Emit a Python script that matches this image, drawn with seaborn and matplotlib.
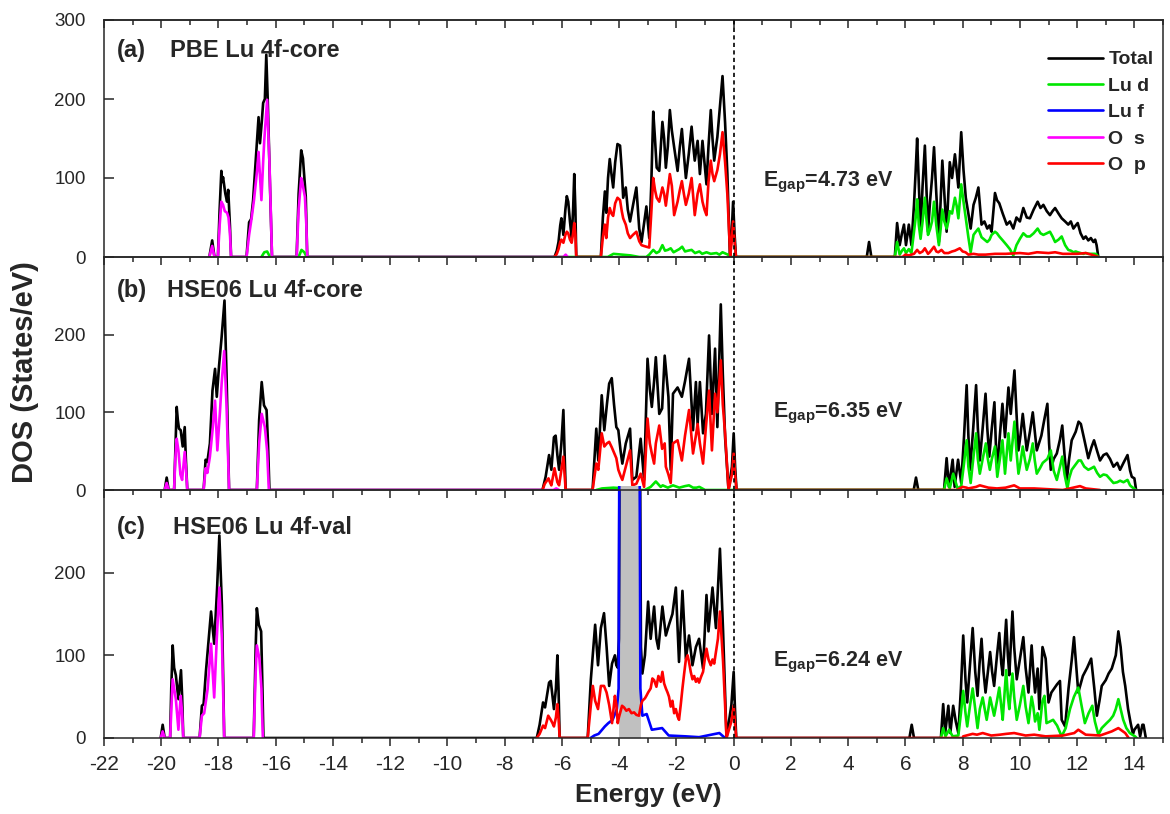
import numpy as np
import pandas as pd
import matplotlib
matplotlib.use("Agg")
import matplotlib.pyplot as plt
from matplotlib.lines import Line2D
from matplotlib.ticker import MultipleLocator
from matplotlib.transforms import Bbox, TransformedBbox
import seaborn as sns

# ---------------------------------------------------------------------------
# Density of states of Lu2O3, (energy in eV, DOS in states/eV) pairs
# ---------------------------------------------------------------------------

# (a) PBE, Lu 4f in core
A_TOTAL = [(-18.32, 0), (-18.22, 21), (-18.14, 0),
           (-18.02, 0), (-17.96, 60), (-17.9, 109), (-17.87, 95), (-17.84, 101), (-17.76, 80), (-17.7, 70),
           (-17.66, 85), (-17.6, 40), (-17.56, 0),
           (-17.02, 0), (-16.93, 44), (-16.86, 48), (-16.79, 72), (-16.72, 110), (-16.65, 148), (-16.6, 177),
           (-16.55, 144), (-16.49, 170), (-16.44, 195), (-16.38, 200), (-16.33, 256), (-16.28, 200),
           (-16.2, 90), (-16.13, 0),
           (-15.27, 0), (-15.2, 80), (-15.11, 135), (-15.05, 125), (-15.0, 101), (-14.95, 76), (-14.9, 0),
           (-6.26, 0), (-6.18, 8), (-6.12, 19), (-6.06, 40), (-6.02, 49), (-5.95, 28), (-5.88, 60), (-5.83, 77),
           (-5.78, 70), (-5.72, 45), (-5.66, 24), (-5.61, 60), (-5.57, 105), (-5.53, 60), (-5.5, 0),
           (-4.64, 0), (-4.57, 50), (-4.5, 83), (-4.45, 56), (-4.39, 100), (-4.33, 124), (-4.27, 105),
           (-4.21, 88), (-4.14, 120), (-4.06, 143), (-3.97, 141), (-3.91, 110), (-3.86, 75), (-3.77, 88),
           (-3.7, 60), (-3.62, 45), (-3.52, 65), (-3.4, 88), (-3.3, 36), (-3.22, 19), (-3.14, 40), (-3.05, 64),
           (-2.95, 24), (-2.88, 90), (-2.81, 184), (-2.75, 150), (-2.69, 113), (-2.6, 109), (-2.49, 171),
           (-2.43, 150), (-2.37, 113), (-2.3, 140), (-2.23, 186), (-2.16, 160), (-2.08, 139), (-1.96, 109),
           (-1.88, 140), (-1.81, 162), (-1.74, 130), (-1.67, 100), (-1.57, 130), (-1.47, 165), (-1.41, 140),
           (-1.36, 122), (-1.26, 147), (-1.18, 105), (-1.09, 147), (-1.02, 120), (-0.95, 92), (-0.88, 140),
           (-0.8, 186), (-0.74, 150), (-0.68, 122), (-0.57, 152), (-0.48, 190), (-0.39, 229), (-0.3, 170),
           (-0.22, 105), (-0.13, 0), (-0.07, 30), (-0.02, 70), (0.03, 30), (0.08, 0),
           (4.65, 0), (4.73, 19), (4.81, 0),
           (5.63, 0), (5.71, 43), (5.8, 15), (5.88, 30), (5.95, 41), (6.02, 15), (6.12, 41), (6.21, 15),
           (6.3, 66), (6.36, 110), (6.41, 150), (6.47, 90), (6.53, 32), (6.6, 90), (6.68, 141), (6.73, 90),
           (6.79, 32), (6.86, 70), (6.93, 100), (7.0, 139), (7.08, 80), (7.17, 19), (7.23, 70), (7.29, 122),
           (7.36, 80), (7.44, 32), (7.5, 80), (7.55, 120), (7.63, 100), (7.73, 130), (7.79, 110), (7.85, 88),
           (7.95, 158), (8.03, 110), (8.11, 75), (8.2, 55), (8.28, 36), (8.38, 66), (8.46, 75), (8.55, 88),
           (8.66, 41), (8.76, 45), (8.86, 36), (8.94, 40), (9.01, 32), (9.13, 81), (9.2, 72), (9.28, 68),
           (9.4, 55), (9.54, 41), (9.65, 45), (9.77, 36), (9.88, 50), (10.0, 45), (10.12, 62), (10.24, 50),
           (10.35, 49), (10.48, 60), (10.62, 70), (10.72, 62), (10.82, 66), (10.94, 58), (11.05, 53),
           (11.14, 58), (11.23, 62), (11.35, 55), (11.46, 49), (11.58, 45), (11.69, 41), (11.78, 45),
           (11.87, 36), (11.95, 40), (12.02, 43), (12.12, 30), (12.22, 23), (12.3, 26), (12.39, 21),
           (12.48, 24), (12.57, 19), (12.63, 22), (12.68, 15), (12.74, 0)]

A_LU_D = [(-16.5, 0), (-16.4, 6), (-16.3, 7), (-16.2, 0), (-15.2, 0), (-15.1, 9), (-15.0, 6), (-14.92, 0),
          (-4.4, 0), (-4.2, 4), (-3.9, 3), (-3.6, 2), (-3.3, 0), (-3.05, 0), (-2.95, 3), (-2.81, 9),
          (-2.7, 5), (-2.6, 7), (-2.49, 15), (-2.4, 8), (-2.3, 9), (-2.2, 11), (-2.1, 6), (-2.0, 8),
          (-1.9, 10), (-1.8, 13), (-1.7, 7), (-1.6, 8), (-1.47, 9), (-1.35, 5), (-1.2, 7), (-1.1, 4),
          (-0.95, 6), (-0.8, 4), (-0.6, 5), (-0.5, 3), (-0.39, 6), (-0.2, 3), (-0.13, 0),
          (5.63, 0), (5.71, 19), (5.8, 3), (5.88, 8), (5.95, 11), (6.02, 5), (6.12, 10), (6.21, 5),
          (6.3, 32), (6.36, 50), (6.41, 73), (6.47, 40), (6.53, 23), (6.6, 45), (6.68, 75), (6.73, 50),
          (6.79, 28), (6.86, 35), (6.93, 45), (7.0, 70), (7.08, 40), (7.17, 15), (7.23, 35), (7.29, 60),
          (7.36, 45), (7.44, 36), (7.5, 45), (7.55, 58), (7.63, 55), (7.73, 75), (7.79, 65), (7.85, 49),
          (7.95, 92), (8.03, 70), (8.11, 49), (8.2, 25), (8.28, 6), (8.38, 28), (8.46, 32), (8.55, 36),
          (8.66, 25), (8.76, 22), (8.86, 19), (8.94, 22), (9.01, 28), (9.13, 32), (9.2, 30), (9.28, 26),
          (9.4, 21), (9.54, 15), (9.65, 10), (9.77, 2), (9.88, 15), (10.0, 23), (10.12, 30), (10.24, 26),
          (10.35, 26), (10.48, 30), (10.62, 36), (10.72, 30), (10.82, 28), (10.94, 30), (11.05, 32),
          (11.14, 26), (11.23, 19), (11.35, 22), (11.46, 26), (11.58, 15), (11.69, 9), (11.78, 8),
          (11.87, 6), (11.95, 7), (12.02, 6), (12.12, 5), (12.22, 4), (12.3, 5), (12.39, 4), (12.48, 4),
          (12.57, 4), (12.63, 4), (12.68, 3), (12.74, 0)]

A_O_S = [(-18.32, 0), (-18.22, 14), (-18.14, 0), (-18.02, 0), (-17.96, 40), (-17.9, 70), (-17.84, 66),
         (-17.78, 58), (-17.7, 56), (-17.65, 50), (-17.6, 30), (-17.56, 0), (-17.02, 0), (-16.93, 28),
         (-16.84, 50), (-16.76, 72), (-16.65, 110), (-16.6, 133), (-16.5, 72), (-16.44, 120), (-16.4, 148),
         (-16.3, 199), (-16.22, 120), (-16.13, 0), (-15.27, 0), (-15.2, 60), (-15.11, 100), (-15.05, 90),
         (-14.98, 76), (-14.93, 40), (-14.9, 0), (-5.95, 0), (-5.87, 3), (-5.8, 0)]

A_O_P = [(-6.26, 0), (-6.18, 4), (-6.12, 10), (-6.06, 19), (-6.02, 22), (-5.95, 18), (-5.88, 28),
         (-5.83, 32), (-5.78, 30), (-5.72, 22), (-5.66, 18), (-5.61, 30), (-5.57, 43), (-5.53, 28),
         (-5.5, 0),
         (-4.64, 0), (-4.57, 25), (-4.5, 41), (-4.45, 24), (-4.39, 50), (-4.33, 62), (-4.27, 55),
         (-4.21, 52), (-4.14, 68), (-4.06, 75), (-3.97, 72), (-3.91, 58), (-3.86, 49), (-3.77, 41),
         (-3.7, 30), (-3.62, 24), (-3.52, 28), (-3.4, 32), (-3.3, 20), (-3.22, 15), (-3.14, 14),
         (-3.05, 13), (-2.95, 12), (-2.88, 55), (-2.81, 100), (-2.75, 85), (-2.69, 75), (-2.6, 70),
         (-2.49, 88), (-2.43, 80), (-2.37, 65), (-2.3, 85), (-2.23, 105), (-2.16, 90), (-2.08, 53),
         (-1.96, 70), (-1.88, 85), (-1.81, 96), (-1.74, 80), (-1.67, 66), (-1.57, 80), (-1.47, 100),
         (-1.41, 75), (-1.36, 53), (-1.26, 80), (-1.18, 92), (-1.09, 70), (-1.02, 60), (-0.95, 53),
         (-0.88, 95), (-0.8, 122), (-0.74, 105), (-0.68, 96), (-0.57, 110), (-0.48, 130), (-0.39, 158),
         (-0.3, 120), (-0.22, 79), (-0.12, 0), (-0.07, 20), (-0.02, 45), (0.03, 20), (0.08, 0),
         (5.9, 0), (6.0, 3), (6.12, 2), (6.3, 4), (6.41, 9), (6.5, 5), (6.6, 7), (6.68, 11), (6.79, 4),
         (6.85, 6), (7.0, 13), (7.08, 7), (7.15, 6), (7.26, 9), (7.36, 5), (7.5, 5), (7.63, 7), (7.73, 8),
         (7.9, 11), (8.0, 7), (8.1, 6), (8.2, 3), (8.38, 4), (8.55, 3), (8.8, 3), (9.13, 4), (9.5, 4),
         (10.0, 5), (10.3, 4), (10.6, 6), (11.0, 5), (11.23, 6), (11.5, 4), (12.0, 4), (12.3, 5),
         (12.5, 3), (12.74, 0)]

# (b) HSE06, Lu 4f in core
B_TOTAL = [(-19.88, 0), (-19.81, 16), (-19.74, 0),
           (-19.55, 0), (-19.5, 60), (-19.46, 107), (-19.42, 90), (-19.38, 79), (-19.32, 77), (-19.25, 56),
           (-19.18, 81), (-19.14, 40), (-19.09, 0),
           (-18.52, 0), (-18.45, 39), (-18.39, 36), (-18.3, 60), (-18.21, 128), (-18.12, 156), (-18.06, 120),
           (-17.98, 160), (-17.89, 197), (-17.79, 244), (-17.72, 150), (-17.63, 0),
           (-16.66, 0), (-16.58, 90), (-16.49, 139), (-16.41, 109), (-16.32, 103), (-16.27, 60), (-16.22, 0),
           (-6.68, 0), (-6.57, 17), (-6.45, 45), (-6.37, 26), (-6.28, 68), (-6.22, 70), (-6.16, 45),
           (-6.1, 26), (-6.02, 60), (-5.95, 103), (-5.87, 0),
           (-4.93, 0), (-4.8, 79), (-4.73, 38), (-4.61, 122), (-4.52, 77), (-4.43, 110), (-4.35, 137),
           (-4.26, 144), (-4.18, 110), (-4.1, 81), (-4.03, 77), (-3.95, 50), (-3.89, 34), (-3.77, 60),
           (-3.62, 79), (-3.54, 13), (-3.4, 17), (-3.25, 66), (-3.13, 13), (-3.01, 169), (-2.93, 130),
           (-2.86, 107), (-2.78, 140), (-2.72, 171), (-2.6, 98), (-2.5, 105), (-2.41, 173), (-2.28, 120),
           (-2.2, 26), (-2.12, 124), (-1.96, 132), (-1.81, 120), (-1.7, 140), (-1.56, 169), (-1.42, 77),
           (-1.32, 139), (-1.26, 85), (-1.18, 139), (-1.07, 73), (-0.97, 98), (-0.86, 199), (-0.76, 98),
           (-0.65, 182), (-0.57, 81), (-0.45, 239), (-0.38, 150), (-0.3, 68), (-0.18, 0), (-0.06, 30),
           (0.0, 73), (0.05, 30), (0.1, 0),
           (6.29, 0), (6.37, 16), (6.45, 0),
           (7.35, 0), (7.44, 41), (7.52, 4), (7.65, 39), (7.72, 4), (7.84, 39), (7.95, 9), (8.05, 70),
           (8.14, 135), (8.2, 70), (8.26, 26), (8.37, 80), (8.47, 135), (8.53, 80), (8.6, 38), (8.7, 80),
           (8.8, 124), (8.86, 80), (8.93, 43), (9.02, 80), (9.11, 113), (9.16, 60), (9.21, 26), (9.3, 70),
           (9.39, 111), (9.48, 68), (9.6, 132), (9.68, 98), (9.81, 154), (9.88, 100), (9.95, 51),
           (10.02, 70), (10.1, 98), (10.17, 75), (10.24, 51), (10.35, 75), (10.45, 100), (10.52, 75),
           (10.59, 51), (10.75, 70), (10.85, 90), (10.96, 111), (11.02, 60), (11.08, 26), (11.18, 40),
           (11.29, 47), (11.4, 65), (11.48, 83), (11.56, 45), (11.64, 13), (11.72, 40), (11.81, 64),
           (11.95, 75), (12.05, 88), (12.13, 85), (12.25, 65), (12.39, 41), (12.5, 55), (12.59, 64),
           (12.7, 50), (12.8, 38), (12.92, 45), (13.03, 47), (13.15, 40), (13.27, 30), (13.4, 35),
           (13.5, 26), (13.62, 35), (13.76, 45), (13.85, 25), (13.91, 17), (14.0, 15), (14.06, 0)]

B_LU_D = [(-4.8, 0), (-4.6, 2), (-4.2, 3), (-3.8, 2), (-3.5, 0),
          (-3.1, 0), (-2.9, 4), (-2.72, 11), (-2.55, 4), (-2.48, 6), (-2.3, 3), (-2.12, 6), (-1.9, 3),
          (-1.7, 5), (-1.56, 6), (-1.42, 3), (-1.3, 3), (-1.2, 4), (-1.0, 0),
          (7.35, 0), (7.44, 15), (7.55, 2), (7.67, 21), (7.82, 2), (7.95, 5), (8.05, 35), (8.14, 64),
          (8.2, 30), (8.28, 9), (8.37, 40), (8.47, 73), (8.53, 40), (8.6, 21), (8.7, 40), (8.81, 60),
          (8.88, 40), (8.95, 26), (9.02, 40), (9.13, 56), (9.21, 17), (9.3, 40), (9.39, 64), (9.48, 21),
          (9.6, 73), (9.68, 38), (9.81, 88), (9.88, 50), (9.95, 21), (10.02, 35), (10.1, 56), (10.17, 40),
          (10.24, 26), (10.35, 40), (10.45, 60), (10.52, 38), (10.59, 21), (10.7, 28), (10.8, 35),
          (10.96, 40), (11.08, 51), (11.18, 25), (11.29, 13), (11.4, 30), (11.48, 43), (11.56, 20),
          (11.66, 2), (11.72, 15), (11.81, 26), (11.95, 33), (12.05, 38), (12.13, 38), (12.25, 30),
          (12.39, 26), (12.5, 28), (12.59, 30), (12.7, 22), (12.8, 17), (12.92, 20), (13.03, 19),
          (13.15, 14), (13.27, 9), (13.4, 10), (13.5, 12), (13.62, 10), (13.76, 13), (13.85, 6),
          (13.91, 4), (14.06, 0)]

B_O_S = [(-19.88, 0), (-19.81, 9), (-19.74, 0), (-19.55, 0), (-19.51, 40), (-19.46, 66), (-19.4, 51),
         (-19.33, 20), (-19.27, 13), (-19.18, 49), (-19.13, 25), (-19.09, 0), (-18.52, 0), (-18.45, 28),
         (-18.39, 22), (-18.3, 43), (-18.2, 80), (-18.12, 115), (-18.04, 51), (-17.95, 100), (-17.89, 137),
         (-17.8, 179), (-17.72, 110), (-17.63, 0), (-16.66, 0), (-16.58, 60), (-16.49, 98), (-16.38, 81),
         (-16.3, 50), (-16.24, 0), (-6.3, 0), (-6.2, 2), (-6.1, 0)]

B_O_P = [(-6.68, 0), (-6.6, 8), (-6.47, 15), (-6.42, 10), (-6.37, 6), (-6.26, 28), (-6.16, 10), (-6.1, 6),
         (-5.95, 43), (-5.87, 0),
         (-4.93, 0), (-4.8, 34), (-4.73, 26), (-4.61, 73), (-4.52, 56), (-4.43, 60), (-4.35, 62),
         (-4.26, 55), (-4.18, 48), (-4.1, 41), (-4.03, 26), (-3.95, 18), (-3.89, 13), (-3.77, 30),
         (-3.62, 51), (-3.54, 6), (-3.4, 8), (-3.25, 21), (-3.13, 4), (-3.01, 92), (-2.93, 60),
         (-2.86, 47), (-2.78, 34), (-2.72, 60), (-2.6, 83), (-2.5, 53), (-2.41, 60), (-2.37, 30),
         (-2.28, 20), (-2.2, 9), (-2.12, 60), (-1.96, 64), (-1.81, 38), (-1.7, 70), (-1.56, 103),
         (-1.42, 47), (-1.32, 70), (-1.26, 85), (-1.18, 60), (-1.07, 34), (-0.97, 81), (-0.86, 128),
         (-0.76, 51), (-0.65, 124), (-0.57, 100), (-0.45, 167), (-0.38, 110), (-0.3, 73), (-0.18, 0),
         (-0.06, 20), (0.0, 47), (0.05, 20), (0.1, 0),
         (7.8, 0), (8.0, 4), (8.14, 3), (8.2, 2), (8.47, 4), (8.6, 6), (8.8, 4), (8.9, 3), (9.2, 2),
         (9.5, 3), (9.8, 6), (10.0, 2), (10.5, 2), (11.0, 1), (11.5, 0), (12.1, 5), (12.3, 2), (12.8, 0)]

# (c) HSE06, Lu 4f in valence
C_TOTAL = [(-20.02, 0), (-19.95, 16), (-19.88, 0),
           (-19.69, 0), (-19.65, 60), (-19.6, 112), (-19.55, 85), (-19.49, 76), (-19.4, 47), (-19.31, 82),
           (-19.27, 50), (-19.23, 0),
           (-18.66, 0), (-18.58, 39), (-18.52, 41), (-18.44, 80), (-18.35, 116), (-18.26, 153), (-18.15, 114),
           (-18.05, 180), (-17.97, 245), (-17.88, 160), (-17.8, 0),
           (-16.77, 0), (-16.7, 110), (-16.66, 157), (-16.59, 137), (-16.51, 129), (-16.47, 70), (-16.43, 0),
           (-6.88, 0), (-6.78, 16), (-6.66, 43), (-6.59, 37), (-6.45, 67), (-6.39, 69), (-6.28, 35),
           (-6.21, 60), (-6.16, 100), (-6.12, 60), (-6.08, 0),
           (-5.1, 0), (-4.99, 71), (-4.84, 137), (-4.74, 88), (-4.64, 133), (-4.53, 151), (-4.44, 110),
           (-4.35, 63), (-4.25, 90), (-4.15, 100), (-4.1, 88), (-4.05, 85), (-4.01, 120), (-3.97, 560),
           (-3.3, 560), (-3.24, 110), (-3.19, 78), (-3.1, 100), (-2.99, 165), (-2.9, 120), (-2.78, 159),
           (-2.7, 120), (-2.63, 108), (-2.49, 159), (-2.37, 124), (-2.26, 137), (-2.14, 150), (-2.02, 182),
           (-1.91, 92), (-1.79, 178), (-1.67, 96), (-1.56, 124), (-1.44, 88), (-1.32, 110), (-1.21, 120),
           (-1.07, 84), (-0.95, 173), (-0.88, 129), (-0.74, 182), (-0.62, 133), (-0.48, 229), (-0.37, 129),
           (-0.25, 0), (-0.08, 40), (0.0, 80), (0.04, 40), (0.09, 0),
           (6.14, 0), (6.22, 16), (6.3, 0),
           (7.24, 0), (7.32, 41), (7.39, 6), (7.5, 39), (7.57, 6), (7.67, 39), (7.76, 20), (7.85, 6),
           (7.94, 60), (8.02, 124), (8.1, 70), (8.16, 43), (8.26, 90), (8.35, 133), (8.44, 80), (8.52, 51),
           (8.59, 90), (8.66, 120), (8.73, 80), (8.8, 55), (8.88, 80), (8.96, 104), (9.03, 80), (9.1, 63),
           (9.2, 100), (9.28, 127), (9.35, 90), (9.4, 76), (9.52, 143), (9.58, 100), (9.63, 76), (9.74, 153),
           (9.8, 110), (9.89, 71), (10.0, 95), (10.12, 122), (10.2, 85), (10.3, 55), (10.41, 112),
           (10.47, 80), (10.53, 55), (10.62, 84), (10.68, 35), (10.79, 110), (10.9, 96), (11.0, 43),
           (11.1, 55), (11.2, 60), (11.3, 65), (11.4, 69), (11.46, 22), (11.58, 14), (11.7, 60),
           (11.81, 94), (11.89, 122), (11.96, 90), (12.04, 55), (12.2, 75), (12.35, 85), (12.49, 96),
           (12.6, 60), (12.69, 27), (12.78, 45), (12.86, 63), (13.0, 70), (13.1, 78), (13.21, 84),
           (13.35, 100), (13.44, 129), (13.52, 110), (13.6, 80), (13.68, 63), (13.78, 35), (13.87, 18),
           (13.95, 5), (14.0, 10), (14.13, 16), (14.2, 2), (14.28, 16), (14.32, 16), (14.4, 0)]

C_LU_D = [(7.24, 0), (7.32, 12), (7.4, 2), (7.53, 10), (7.65, 2), (7.85, 3), (7.94, 30), (8.02, 57),
          (8.1, 30), (8.16, 14), (8.26, 40), (8.35, 60), (8.44, 35), (8.52, 12), (8.6, 35), (8.7, 49),
          (8.77, 35), (8.84, 22), (8.9, 35), (8.96, 49), (9.03, 38), (9.1, 27), (9.2, 45), (9.28, 61),
          (9.35, 38), (9.4, 22), (9.52, 82), (9.58, 50), (9.63, 35), (9.74, 78), (9.8, 50), (9.89, 22),
          (10.0, 40), (10.12, 63), (10.2, 38), (10.3, 18), (10.41, 50), (10.47, 38), (10.53, 20),
          (10.62, 30), (10.68, 10), (10.79, 45), (10.86, 51), (10.93, 18), (11.05, 20), (11.16, 22),
          (11.3, 15), (11.46, 2), (11.6, 12), (11.75, 35), (11.89, 50), (12.04, 61), (12.15, 40),
          (12.27, 18), (12.4, 30), (12.53, 39), (12.62, 20), (12.74, 4), (12.86, 12), (13.03, 18),
          (13.15, 22), (13.26, 27), (13.35, 35), (13.44, 47), (13.52, 35), (13.61, 22), (13.72, 12),
          (13.84, 6), (14.02, 2), (14.08, 0)]

C_LU_F = [(-5.0, 0), (-4.87, 3), (-4.72, 5), (-4.5, 14), (-4.38, 18), (-4.23, 22), (-4.08, 35),
          (-4.02, 60), (-3.98, 520), (-3.3, 520), (-3.26, 60), (-3.19, 27), (-3.04, 29), (-2.86, 10),
          (-2.5, 12), (-2.27, 3), (-1.68, 2), (-1.21, 1), (-0.5, 6), (-0.3, 0)]

C_O_S = [(-20.02, 0), (-19.95, 8), (-19.88, 0), (-19.69, 0), (-19.64, 40), (-19.6, 71), (-19.49, 47),
         (-19.4, 10), (-19.32, 51), (-19.27, 30), (-19.23, 0), (-18.66, 0), (-18.58, 27), (-18.5, 30),
         (-18.38, 59), (-18.26, 114), (-18.15, 49), (-18.06, 120), (-17.97, 182), (-17.88, 120),
         (-17.8, 0), (-16.77, 0), (-16.7, 80), (-16.66, 112), (-16.57, 96), (-16.5, 60), (-16.45, 0)]

C_O_P = [(-6.88, 0), (-6.78, 5), (-6.66, 15), (-6.59, 12), (-6.48, 27), (-6.39, 22), (-6.33, 18),
         (-6.28, 14), (-6.21, 25), (-6.16, 41), (-6.12, 25), (-6.08, 0),
         (-5.1, 0), (-4.99, 40), (-4.92, 63), (-4.84, 45), (-4.74, 35), (-4.64, 63), (-4.53, 63),
         (-4.44, 55), (-4.35, 40), (-4.25, 18), (-4.15, 51), (-4.1, 40), (-4.05, 18), (-4.01, 25),
         (-3.97, 30), (-3.9, 39), (-3.83, 37), (-3.75, 33), (-3.66, 35), (-3.57, 30), (-3.48, 31),
         (-3.4, 28), (-3.31, 27), (-3.24, 40), (-3.19, 45), (-3.1, 48), (-3.05, 51), (-2.99, 55),
         (-2.9, 60), (-2.84, 72), (-2.78, 70), (-2.7, 62), (-2.63, 75), (-2.55, 68), (-2.49, 80),
         (-2.43, 66), (-2.37, 60), (-2.31, 55), (-2.26, 50), (-2.2, 38), (-2.14, 45), (-2.08, 30),
         (-2.02, 35), (-1.96, 26), (-1.91, 22), (-1.85, 40), (-1.79, 60), (-1.73, 78), (-1.67, 95),
         (-1.61, 100), (-1.56, 92), (-1.5, 80), (-1.44, 71), (-1.38, 75), (-1.32, 68), (-1.26, 72),
         (-1.21, 67), (-1.14, 74), (-1.07, 80), (-1.01, 95), (-0.95, 108), (-0.88, 95), (-0.8, 88),
         (-0.74, 95), (-0.68, 90), (-0.62, 104), (-0.55, 120), (-0.48, 153), (-0.42, 120), (-0.37, 92),
         (-0.3, 40), (-0.25, 0), (-0.08, 20), (0.0, 39), (0.04, 20), (0.09, 0),
         (8.0, 0), (8.02, 2), (8.35, 5), (8.5, 4), (8.7, 6), (9.0, 3), (9.3, 4), (9.52, 5), (9.8, 6),
         (10.2, 3), (10.5, 4), (10.9, 2), (11.5, 3), (11.9, 6), (12.04, 10), (12.3, 4), (12.8, 3),
         (13.21, 8), (13.44, 12), (13.68, 6), (13.8, 0)]

# Energy window of the Lu 4f band that is shaded in (c)
LU_F_BAND = (-4.03, -3.25)

PANEL_LABELS = ["(a)", "(b)", "(c)"]
PANEL_NAMES = ["PBE Lu 4f-core", "HSE06 Lu 4f-core", "HSE06 Lu 4f-val"]
GAP_VALUES = [4.73, 6.35, 6.24]
LEGEND_LABELS = ["Total", "Lu d", "Lu f", "O  s", "O  p"]

COLORS = {"Total": "#000000", "Lu d": "#00e600", "Lu f": "#0000ff", "O  s": "#ff00ff", "O  p": "#ff0000"}

# ---------------------------------------------------------------------------
sns.set_style("ticks")
plt.rcParams["font.family"] = ["Liberation Sans", "DejaVu Sans"]
plt.rcParams["mathtext.fontset"] = "custom"
plt.rcParams["mathtext.rm"] = "Liberation Sans"
plt.rcParams["mathtext.bf"] = "Liberation Sans:bold"
plt.rcParams["axes.unicode_minus"] = False
plt.rcParams["axes.linewidth"] = 1.1

fig = plt.figure(figsize=(11.7, 8.14), dpi=100)
left, width = 104 / 1170, 1059 / 1170
ax_a = fig.add_axes([left, 1 - 257 / 814, width, 237 / 814])
ax_b = fig.add_axes([left, 1 - 490 / 814, width, 233 / 814])
ax_c = fig.add_axes([left, 1 - 738 / 814, width, 248 / 814])
axes = [ax_a, ax_b, ax_c]

LW = 1.9


def draw(ax, pairs, name):
    df = pd.DataFrame(pairs, columns=["Energy", "DOS"])
    sns.lineplot(data=df, x="Energy", y="DOS", ax=ax, color=COLORS[name], linewidth=LW,
                 estimator=None, sort=False, legend=False)
    return ax.lines[-1]


panel_curves = [
    [(A_TOTAL, "Total"), (A_LU_D, "Lu d"), (A_O_S, "O  s"), (A_O_P, "O  p")],
    [(B_TOTAL, "Total"), (B_LU_D, "Lu d"), (B_O_S, "O  s"), (B_O_P, "O  p")],
    [(C_TOTAL, "Total"), (C_LU_D, "Lu d"), (C_LU_F, "Lu f"), (C_O_S, "O  s"), (C_O_P, "O  p")],
]

label_y = [0.873, 0.858, 0.85]
name_x = [0.0623, 0.0595, 0.0652]
gap_x = [0.622, 0.632, 0.632]
gap_y = [0.316, 0.33, 0.306]

for i, (ax, curves) in enumerate(zip(axes, panel_curves)):
    ax.set_facecolor("none")
    for pairs, name in curves:
        if name == "Lu f":
            # the 4f band runs off the top of the frame and is cut just above it
            clip = TransformedBbox(Bbox([[0, 0], [1, 1.016]]), ax.transAxes)
            f = pd.DataFrame(pairs, columns=["Energy", "DOS"])
            band = (f["Energy"] >= LU_F_BAND[0]) & (f["Energy"] <= LU_F_BAND[1])
            poly = ax.fill_between(f["Energy"], f["DOS"], 0, where=band, color="#c0c0c0", lw=0,
                                   zorder=1.5)
            poly.set_clip_box(clip)
            line = draw(ax, pairs, name)
            line.set_clip_box(clip)
        else:
            draw(ax, pairs, name)

    ax.axvline(0, color="black", lw=1.2, ls=(0, (2.5, 2)), zorder=5)
    ax.set_xlim(-22, 15)
    ax.set_ylim(0, 300)
    ax.xaxis.set_major_locator(MultipleLocator(2))
    ax.xaxis.set_minor_locator(MultipleLocator(1))
    ax.set_yticks([0, 100, 200, 300] if i == 0 else [0, 100, 200])
    ax.tick_params(axis="x", which="major", direction="out", length=6, width=1.1,
                   labelsize=15, pad=6)
    ax.tick_params(axis="x", which="minor", direction="out", length=3.5, width=1.1)
    ax.tick_params(axis="y", direction="in", length=7, width=1.1, labelsize=13.5, pad=13)
    ax.set_xlabel("")
    ax.set_ylabel("")
    if i < 2:
        ax.tick_params(axis="x", which="both", labelbottom=False)

    ax.text(0.0123, label_y[i], PANEL_LABELS[i], transform=ax.transAxes,
            fontsize=17, fontweight="bold", va="center", ha="left")
    ax.text(name_x[i], label_y[i], PANEL_NAMES[i], transform=ax.transAxes,
            fontsize=17, fontweight="bold", va="center", ha="left")
    ax.text(gap_x[i], gap_y[i], r"E$_{\mathbf{gap}}$=" + f"{GAP_VALUES[i]:.2f} eV",
            transform=ax.transAxes, fontsize=15.5, fontweight="bold", va="center", ha="left")

# top ticks of the upper panel point inwards
top = ax_a.secondary_xaxis("top")
top.xaxis.set_major_locator(MultipleLocator(2))
top.xaxis.set_minor_locator(MultipleLocator(1))
top.tick_params(axis="x", which="major", direction="in", length=6, width=1.1, labeltop=False)
top.tick_params(axis="x", which="minor", direction="in", length=3.5, width=1.1)

handles = [Line2D([], [], color=COLORS[n], lw=LW) for n in LEGEND_LABELS]
ax_a.legend(handles, LEGEND_LABELS, loc="upper right", bbox_to_anchor=(0.991, 0.87),
            frameon=False, prop={"weight": "bold", "size": 14}, handlelength=2.8,
            handletextpad=0.3, labelspacing=0.45, borderpad=0, borderaxespad=0)

ax_c.set_xlabel("Energy (eV)", fontsize=19, fontweight="bold")
ax_c.xaxis.set_label_coords((648 - 104) / 1059, -0.18)
fig.text(25 / 1170, 1 - 372 / 814, "DOS (States/eV)", rotation=90, fontsize=21,
         fontweight="bold", va="center", ha="center")

fig.savefig("out.png", dpi=100)
